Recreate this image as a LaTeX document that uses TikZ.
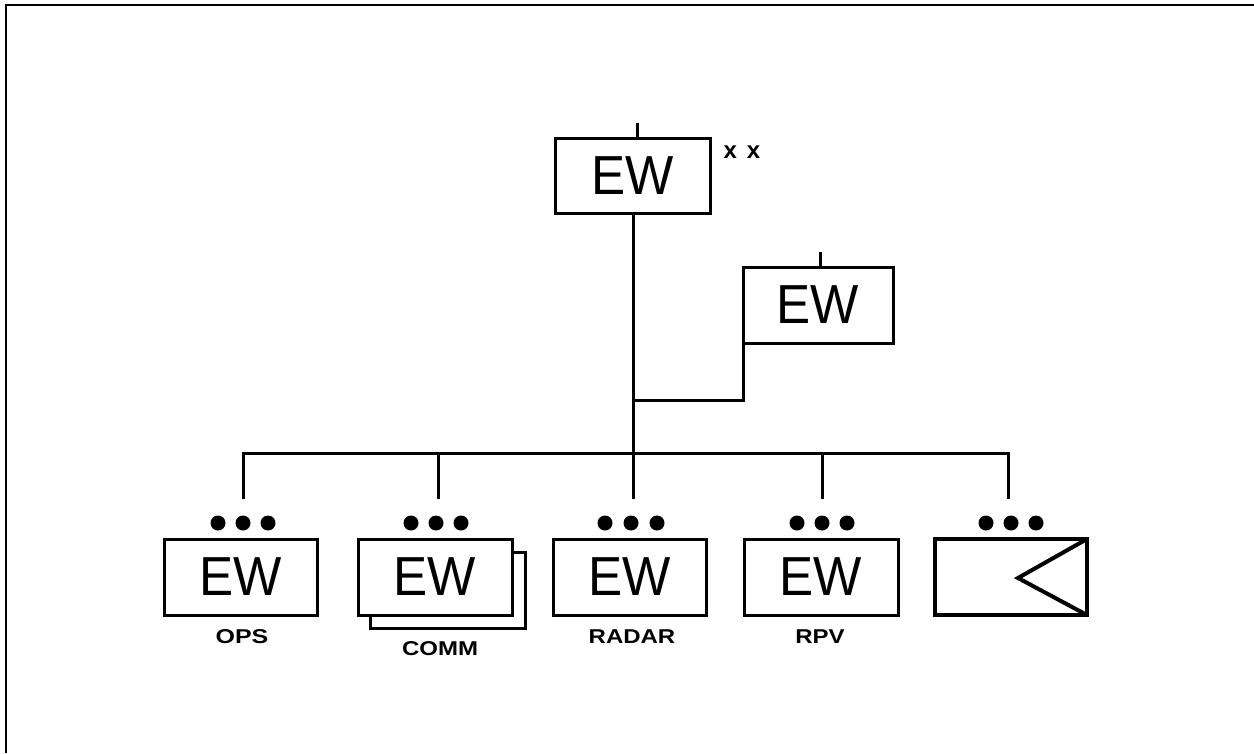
\documentclass[tikz,border=0pt]{standalone}
\usepackage{fontspec}
\setmainfont{Liberation Sans}
\newfontfamily\lblfam{Liberation Sans Bold}
\begin{document}
\begin{tikzpicture}[x=1pt,y=-1pt,
  box/.style={draw, line width=3pt, fill=white, minimum width=153pt, minimum height=76pt, inner sep=0pt, outer sep=0pt, font=\fontsize{55}{55}\selectfont},
  lbl/.style={inner sep=0pt, font=\lblfam\fontsize{20}{20}\selectfont},
  dotn/.style={circle, fill=black, minimum size=15pt, inner sep=0pt},
  wire/.style={line width=3pt}
]
\useasboundingbox (0,0) rectangle (1254,753);
% frame
\draw[line width=2.4pt] (6,753) -- (6,5) -- (1254,5);

% top box
\node[box, minimum width=155pt, minimum height=75pt] (top) at (632.5,175.5) {\scalebox{0.93}[1]{EW}};
\coordinate (t1) at (637,123);
\draw[wire] (t1) -- (t1 |- top.north);
\node[inner sep=0pt, font=\lblfam\fontsize{24}{24}\selectfont] (xx) at (742,152) {x\hspace{10pt}x};

% second box
\node[box, minimum width=150pt, minimum height=76pt] (ew2) at (818,305) {\scalebox{0.93}[1]{EW}};
\coordinate (t2) at (820,252);
\draw[wire] (t2) -- (t2 |- ew2.north);

% spine
\coordinate (j) at (633,453);
\coordinate (k) at (633,400);
\draw[wire] (top.south -| j) -- (j);
\draw[wire] (k) -| (ew2.south west);

% bus
\coordinate (b1) at (243,453);
\coordinate (b2) at (438,453);
\coordinate (b3) at (633,453);
\coordinate (b4) at (822,453);
\coordinate (b5) at (1008,453);
\coordinate (e1) at (243,499);
\coordinate (e2) at (438,499);
\coordinate (e3) at (633,499);
\coordinate (e4) at (822,499);
\coordinate (e5) at (1008,499);
\draw[wire] (e1) -- (b1) -- (b5) -- (e5);
\draw[wire] (b2) -- (e2);
\draw[wire] (b3) -- (e3);
\draw[wire] (b4) -- (e4);

% bottom boxes
\node[box, minimum width=153pt] (ops) at (241,577) {\scalebox{0.93}[1]{EW}};
\node[box, minimum width=155pt] (commsh) at (448,590) {};
\node[box, minimum width=154pt] (comm) at (435,577) {\scalebox{0.93}[1]{EW}};
\node[box, minimum width=153pt] (radar) at (630,577) {\scalebox{0.93}[1]{EW}};
\node[box, minimum width=154pt] (rpv) at (821,577) {\scalebox{0.93}[1]{EW}};
\node[box, minimum width=152pt, line width=4pt] (sens) at (1011,577) {};
\coordinate (tv) at (1018,578);
\draw[line width=4pt, line join=miter] (sens.north east) -- (tv) -- (sens.south east);

% dots
\foreach \n/\x in {a/218,b/243,c/268}{\node[dotn] (o\n) at (\x,523) {};}
\foreach \n/\x in {a/411,b/436,c/461}{\node[dotn] (c\n) at (\x,523) {};}
\foreach \n/\x in {a/605,b/631,c/657}{\node[dotn] (r\n) at (\x,523) {};}
\foreach \n/\x in {a/797,b/822,c/847}{\node[dotn] (p\n) at (\x,523) {};}
\foreach \n/\x in {a/986,b/1011,c/1036}{\node[dotn] (s\n) at (\x,523) {};}

% labels
\node[lbl] (lops) at (242,637) {\scalebox{1.25}[1]{OPS}};
\node[lbl] (lcomm) at (440,649) {\scalebox{1.2}[1]{COMM}};
\node[lbl] (lradar) at (632,637) {\scalebox{1.2}[1]{RADAR}};
\node[lbl] (lrpv) at (820,637) {\scalebox{1.2}[1]{RPV}};
\end{tikzpicture}
\end{document}
